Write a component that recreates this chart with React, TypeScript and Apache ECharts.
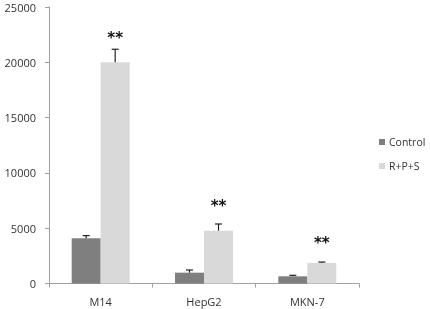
import React, { useEffect, useRef } from "react";
import * as echarts from "echarts";

const categories = ["M14", "HepG2", "MKN-7"];
const controlValues = [4100, 980, 650];
const controlErrors = [230, 240, 90];
const treatedValues = [20000, 4780, 1850];
const treatedErrors = [1180, 600, 90];
const starLabels = ["**", "**", "**"];
const starValues = [22450, 7300, 3950];
const yTicks = [0, 5000, 10000, 15000, 20000, 25000];

const FONT = "'Open Sans', 'Liberation Sans', sans-serif";

export default function App() {
  const ref = useRef<HTMLDivElement>(null);
  useEffect(() => {
    if (!ref.current) return;
    const chart = echarts.init(ref.current, null, { renderer: "svg" });
    const errItem = (offsetIdx: number) => (params: any, api: any) => {
      const i = api.value(0);
      const v = api.value(1);
      const e = api.value(2);
      const base = api.coord([i, v]);
      const top = api.coord([i, v + e]);
      const x = base[0] + (offsetIdx === 0 ? -14.5 : 14.5);
      return {
        type: "group",
        children: [
          {
            type: "line",
            shape: { x1: x, y1: base[1], x2: x, y2: top[1] },
            style: { stroke: "#222", lineWidth: 1.2 },
          },
          {
            type: "line",
            shape: { x1: x - 3.5, y1: top[1], x2: x + 3.5, y2: top[1] },
            style: { stroke: "#222", lineWidth: 1.2 },
          },
        ],
      };
    };
    chart.setOption({
      animation: false,
      grid: { left: 49, right: 71, top: 7, bottom: 25.5 },
      legend: {
        orient: "vertical",
        left: 379,
        top: 135,
        padding: 0,
        itemWidth: 6,
        itemHeight: 6,
        itemGap: 10,
        icon: "rect",
        textStyle: { fontFamily: FONT, fontSize: 10.5, color: "#333", lineHeight: 14, padding: [0, 0, 0, -1] },
        data: ["Control", "R+P+S"],
      },
      xAxis: {
        type: "category",
        data: categories,
        axisLine: { lineStyle: { color: "#a0a0a0", width: 1 } },
        axisTick: { show: true, length: 4, lineStyle: { color: "#a0a0a0" } },
        axisLabel: { fontFamily: FONT, fontSize: 11, color: "#333", margin: 12 },
      },
      yAxis: {
        type: "value",
        min: yTicks[0],
        max: yTicks[yTicks.length - 1],
        interval: 5000,
        axisLine: { show: true, lineStyle: { color: "#a0a0a0", width: 1 } },
        axisTick: { show: true, length: 4, lineStyle: { color: "#a0a0a0" } },
        splitLine: { show: false },
        axisLabel: {
          fontFamily: FONT,
          fontSize: 11,
          color: "#333",
          margin: 13,
          formatter: (v: number) => String(v),
        },
      },
      series: [
        {
          name: "Control",
          type: "bar",
          data: controlValues,
          barWidth: 29,
          barGap: "0%",
          itemStyle: { color: "#7f7f7f" },
        },
        {
          name: "R+P+S",
          type: "bar",
          data: treatedValues,
          barWidth: 29,
          barGap: "0%",
          itemStyle: { color: "#d9d9d9" },
        },
        {
          type: "custom",
          renderItem: errItem(0),
          data: controlValues.map((v, i) => [i, v, controlErrors[i]]),
          z: 10,
          silent: true,
        },
        {
          type: "custom",
          renderItem: errItem(1),
          data: treatedValues.map((v, i) => [i, v, treatedErrors[i]]),
          z: 10,
          silent: true,
        },
        {
          type: "custom",
          renderItem: (params: any, api: any) => {
            const i = api.value(0);
            const p = api.coord([i, api.value(1)]);
            return {
              type: "text",
              x: p[0] + 14.5,
              y: p[1] + 3,
              style: {
                text: starLabels[params.dataIndex],
                fontFamily: "'DejaVu Sans', sans-serif",
                fontWeight: "bold",
                fontSize: 15,
                fill: "#111",
                align: "center",
                verticalAlign: "middle",
              },
            };
          },
          data: starValues.map((v, i) => [i, v]),
          z: 11,
          silent: true,
        },
      ],
    });
    return () => chart.dispose();
  }, []);
  return (
    <div
      ref={ref}
      style={{ position: "fixed", left: 0, top: 0, width: 430, height: 309 }}
    />
  );
}
